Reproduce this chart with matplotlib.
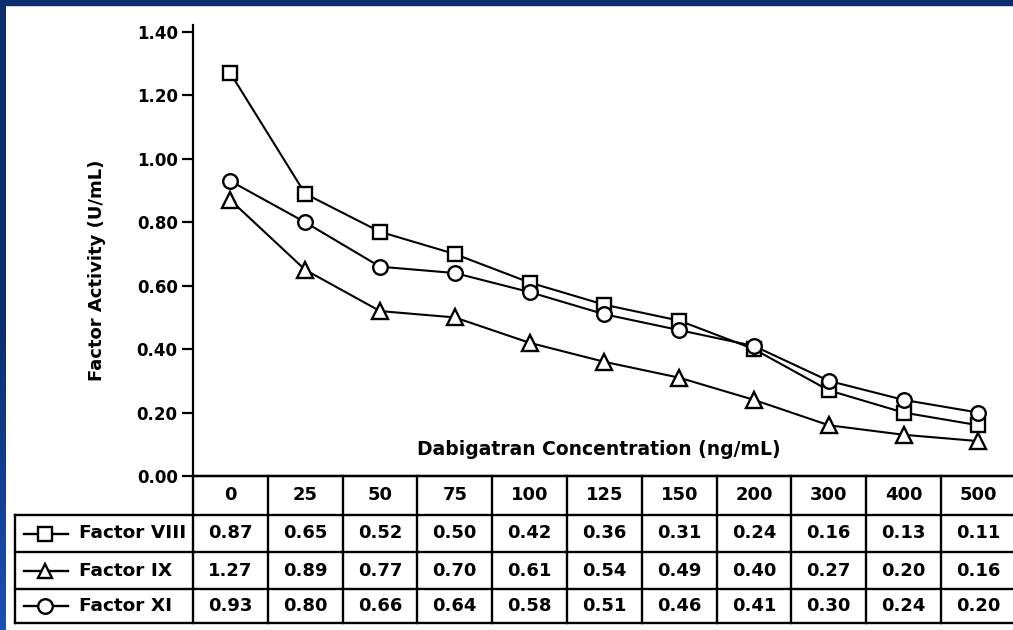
import numpy as np
import matplotlib
matplotlib.use("Agg")
import matplotlib.pyplot as plt
from matplotlib.patches import Rectangle
from matplotlib.colors import LinearSegmentedColormap

plt.rcParams['font.family'] = ['DejaVu Sans']
plt.rcParams['font.weight'] = 'bold'

concentrations = ['0', '25', '50', '75', '100', '125', '150', '200', '300', '400', '500']
factor_viii = [0.87, 0.65, 0.52, 0.50, 0.42, 0.36, 0.31, 0.24, 0.16, 0.13, 0.11]
factor_ix = [1.27, 0.89, 0.77, 0.70, 0.61, 0.54, 0.49, 0.40, 0.27, 0.20, 0.16]
factor_xi = [0.93, 0.80, 0.66, 0.64, 0.58, 0.51, 0.46, 0.41, 0.30, 0.24, 0.20]
row_names = ['Factor VIII', 'Factor IX', 'Factor XI']
row_markers = ['s', '^', 'o']
# in the original figure the square line carries the 1.27... values and the triangle the 0.87... values
plot_series = [(factor_ix, 's', 10), (factor_viii, '^', 11), (factor_xi, 'o', 10.5)]

W, H = 1013, 630
fig = plt.figure(figsize=(W / 100, H / 100), dpi=100)

# layout in pixels
ax_left, zero_y, ax_top = 193, 476, 25
col_w = 74.8
tab_left = 15
row_y = [476, 515, 552, 589, 623]

def fx(p):
    return p / W

def fy(p):
    return 1 - p / H

x = np.arange(len(concentrations))
xmin = -0.5
xmax = (W - ax_left) / col_w - 0.5

ax = fig.add_axes([fx(ax_left), fy(zero_y), fx(W - ax_left), (zero_y - ax_top) / H])
ax.set_xlim(xmin, xmax)
per_px = 1.40 / (zero_y - 32)
ax.set_ylim(0, 1.40 + per_px * (32 - ax_top))
for s in ['top', 'right']:
    ax.spines[s].set_visible(False)
ax.spines['left'].set_linewidth(1.6)
ax.spines['bottom'].set_linewidth(1.6)
ax.set_xticks([])
ax.set_yticks(np.arange(0, 1.41, 0.2))
ax.set_yticklabels(['%.2f' % v for v in np.arange(0, 1.41, 0.2)], fontsize=12, fontweight='bold')
ax.tick_params(axis='y', length=8, width=1.6, pad=3)

for vals, mk, ms in plot_series:
    ax.plot(x, vals, color='black', lw=1.5, marker=mk, ms=ms, mfc='white', mec='black', mew=1.7,
            clip_on=False, zorder=3)

ax.text(0.5 * (xmin + xmax) - 0.05, 0.085, 'Dabigatran Concentration (ng/mL)', ha='center', va='center',
        fontsize=13.5, fontweight='bold')
fig.text(fx(97), fy(270), 'Factor Activity (U/mL)', rotation=90, ha='center', va='center',
         fontsize=13, fontweight='bold')

# table
tax = fig.add_axes([fx(tab_left), fy(row_y[-1]), fx(W - tab_left), (row_y[-1] - row_y[0]) / H])
txmin = (tab_left - ax_left) / col_w - 0.5
tax.set_xlim(txmin, xmax)
tax.set_ylim(row_y[-1], row_y[0])
tax.axis('off')
lw = 1.7
n = len(concentrations)
# horizontal lines
tax.plot([xmin, xmax], [row_y[0], row_y[0]], color='black', lw=lw, clip_on=False)
for yy in row_y[1:]:
    tax.plot([txmin, n - 0.5], [yy, yy], color='black', lw=lw, clip_on=False)
tax.plot([n - 0.5, xmax], [row_y[1], row_y[1]], color='black', lw=lw, clip_on=False)
# vertical lines
tax.plot([txmin, txmin], [row_y[1], row_y[-1]], color='black', lw=lw, clip_on=False)
for i in range(n + 1):
    tax.plot([i - 0.5, i - 0.5], [row_y[0], row_y[-1]], color='black', lw=lw, clip_on=False)

for i, c in enumerate(concentrations):
    tax.text(i, (row_y[0] + row_y[1]) / 2, c, ha='center', va='center', fontsize=13, fontweight='bold')

rows = [factor_viii, factor_ix, factor_xi]
for r, (name, mk, vals) in enumerate(zip(row_names, row_markers, rows)):
    yc = (row_y[r + 1] + row_y[r + 2]) / 2
    lx0 = (24 - ax_left) / col_w - 0.5
    lx1 = (68 - ax_left) / col_w - 0.5
    lxm = (45 - ax_left) / col_w - 0.5
    tax.plot([lx0, lx1], [yc, yc], color='black', lw=1.7, clip_on=False)
    tax.plot([lxm], [yc], marker=mk, ms=10.5, mfc='white', mec='black', mew=1.7, clip_on=False)
    tax.text((79 - ax_left) / col_w - 0.5, yc, name, ha='left', va='center', fontsize=13.3, fontweight='bold')
    for i, v in enumerate(vals):
        tax.text(i, yc, '%.2f' % v, ha='center', va='center', fontsize=13, fontweight='bold')

# blue frame
fig.patches.append(Rectangle((0, fy(5)), 1, 5 / H, transform=fig.transFigure, color='#0b2d6e', zorder=10))
grad = np.linspace(0, 1, 100).reshape(-1, 1)
bax = fig.add_axes([0, 0, fx(5), fy(0)])
cm = LinearSegmentedColormap.from_list('b', ['#0b2d6e', '#0b2d6e', '#1a4fb5'])
bax.imshow(grad, aspect='auto', cmap=cm, extent=[0, 1, 1, 0])
bax.axis('off')

fig.savefig('out.png', dpi=100, facecolor='white')
